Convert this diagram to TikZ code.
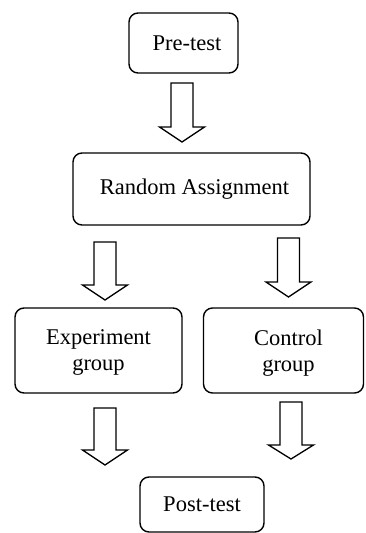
\documentclass[tikz,border=0pt]{standalone}
\usepackage{fontspec}
\setmainfont{Liberation Serif}
\newcommand\mydownarrow[5]{% name, cx, top, headstart, tip
  \draw[blk] (#2-11,#3) -- (#2+11,#3) -- (#2+11,#4) -- (#2+22.5,#4) -- (#2,#5) coordinate (#1) -- (#2-22.5,#4) -- (#2-11,#4) -- cycle;}
\begin{document}
\begin{tikzpicture}[x=1pt,y=-1pt,
  box/.style={draw, line width=1.4pt, rounded corners=9pt, align=center,
    font=\fontsize{22.5}{26}\selectfont, inner sep=0pt},
  blk/.style={draw, line width=1.3pt, fill=white, line join=miter}]
\useasboundingbox (0,0) rectangle (365,533);
\node[box, minimum width=109pt, minimum height=60pt] (pre) at (183.5,43) {\hspace*{7pt}Pre-test};
\node[box, minimum width=237pt, minimum height=72pt] (ra) at (191.5,189) {\hspace*{6pt}Random Assignment};
\node[box, minimum width=167pt, minimum height=85pt, text depth=-6pt] (exp) at (98.5,350.5) {Experiment\\group};
\node[box, minimum width=160pt, minimum height=85pt, text depth=-6pt] (ctl) at (283.5,350.5) {\hspace*{10pt}Control\\\hspace*{10pt}group};
\node[box, minimum width=124pt, minimum height=55pt] (post) at (202,504.5) {Post-test};
\mydownarrow{t1}{182}{83}{127}{142}
\mydownarrow{t2}{105}{242}{285}{300}
\mydownarrow{t3}{288.5}{238}{282}{297}
\mydownarrow{t4}{105}{408}{450}{465}
\mydownarrow{t5}{291}{402}{445}{459}
\end{tikzpicture}
\end{document}
